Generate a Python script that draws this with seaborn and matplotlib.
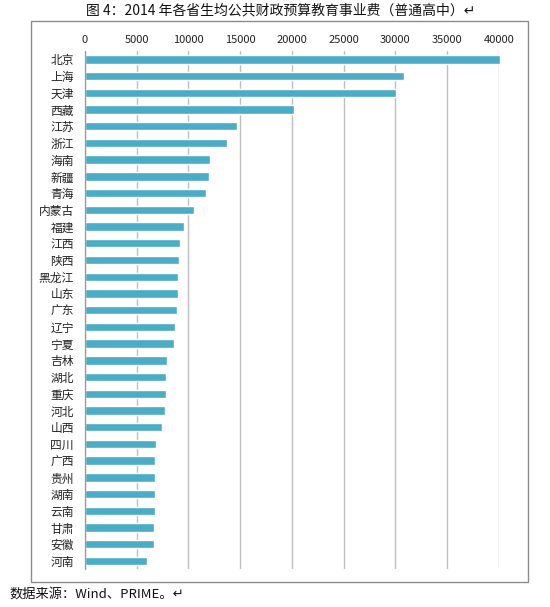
"""图4：2014年各省生均公共财政预算教育事业费（普通高中）横向条形图。"""
import matplotlib
matplotlib.use("Agg")
import matplotlib.pyplot as plt
import numpy as np
import pandas as pd
import seaborn as sns
from matplotlib.patches import Rectangle

PROVINCES = [
    "北京", "上海", "天津", "西藏", "江苏", "浙江", "海南", "新疆", "青海", "内蒙古",
    "福建", "江西", "陕西", "黑龙江", "山东", "广东", "辽宁", "宁夏", "吉林", "湖北",
    "重庆", "河北", "山西", "四川", "广西", "贵州", "湖南", "云南", "甘肃", "安徽", "河南",
]
SPENDING = [
    40100, 30800, 30050, 20170, 14650, 13740, 12100, 11950, 11720, 10560,
    9600, 9220, 9090, 9030, 9010, 8890, 8740, 8600, 7900, 7800,
    7790, 7740, 7420, 6900, 6810, 6800, 6790, 6740, 6650, 6640, 6000,
]
X_TICKS = [0, 5000, 10000, 15000, 20000, 25000, 30000, 35000, 40000]

TITLE = "图 4：2014 年各省生均公共财政预算教育事业费（普通高中）↵"
SOURCE = "数据来源：Wind、PRIME。↵"

BAR_COLOR = "#4BACC6"
GRID_COLOR = "#BFBFBF"

sns.set_theme(style="white")
plt.rcParams["font.family"] = ["Noto Sans CJK SC", "DejaVu Sans"]

df = pd.DataFrame({"省份": PROVINCES, "经费": SPENDING})

fig = plt.figure(figsize=(5.5, 6.07), dpi=100)
ax = fig.add_axes([0.1545, 0.062, 0.7527, 0.854])

sns.barplot(data=df, x="经费", y="省份", order=PROVINCES, color=BAR_COLOR,
            saturation=1, width=0.5, ax=ax)

ax.set_xlim(0, 40000)
for p in ax.patches:
    p.set_clip_on(False)
ax.set_ylim(len(PROVINCES) - 0.5, -0.5)
ax.set_xticks(X_TICKS)
ax.set_xticklabels([str(t) for t in X_TICKS])
ax.xaxis.tick_top()
ax.tick_params(axis="x", length=0, labelsize=8, colors="#222222", pad=4)
ax.tick_params(axis="y", which="major", length=0, labelsize=8.5, colors="#222222", pad=8)
ax.set_yticks(np.arange(-0.5, len(PROVINCES)), minor=True)
ax.tick_params(axis="y", which="minor", length=4, width=0.8, color="#999999", direction="out")
ax.set_xlabel("")
ax.set_ylabel("")

ax.grid(axis="x", color=GRID_COLOR, linewidth=1)
ax.set_axisbelow(True)
for side in ("top", "right", "bottom"):
    ax.spines[side].set_visible(False)
ax.spines["left"].set_color("#999999")
ax.spines["left"].set_linewidth(0.9)

# outer chart frame like the Excel chart area
fig.patches.append(Rectangle((0.0558, 0.0412), 0.904, 0.925, transform=fig.transFigure,
                             fill=False, edgecolor="#8C8C8C", linewidth=1))

fig.text(0.51, 0.983, TITLE, ha="center", va="center", fontsize=10, color="#111111")
fig.text(0.018, 0.022, SOURCE, ha="left", va="center", fontsize=9.5, color="#111111")

fig.savefig("out.png", dpi=100)
